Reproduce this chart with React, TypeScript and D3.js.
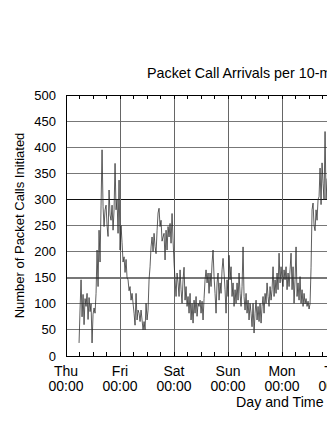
import { useEffect, useRef } from 'react';
import * as d3 from 'd3';

// series starts Thu ~05:48, one sample every 80/3 minutes
const START_HOUR = 5.8;
const STEP_HOURS = 4 / 9;
const packetCalls = [
  25, 90, 146, 75, 118, 60, 110, 95, 120, 70, 112, 85, 100, 25, 80, 92, 82, 120, 203, 133,
  241, 180, 289, 395, 286, 248, 280, 289, 250, 229, 318, 270, 260, 289, 241, 280, 369, 280, 300, 235,
  337, 203, 250, 217, 180, 190, 160, 185, 150, 146, 125, 133, 107, 120, 101, 82, 59, 120, 69, 88,
  82, 66, 88, 69, 50, 66, 50, 101, 69, 88, 146, 171, 209, 228, 200, 235, 210, 196, 240, 274,
  283, 248, 260, 220, 228, 235, 184, 241, 203, 248, 228, 254, 216, 273, 222, 178, 146, 114, 159, 140,
  114, 165, 127, 101, 146, 170, 107, 133, 95, 114, 82, 120, 69, 101, 63, 107, 82, 114, 76, 101,
  95, 107, 82, 105, 69, 110, 146, 165, 140, 159, 120, 159, 133, 178, 203, 152, 120, 82, 140, 159,
  107, 140, 120, 165, 187, 159, 127, 82, 146, 114, 193, 146, 171, 114, 140, 95, 127, 101, 140, 107,
  159, 120, 95, 133, 209, 114, 88, 120, 82, 107, 69, 101, 82, 56, 101, 44, 82, 107, 69, 95,
  66, 101, 63, 95, 114, 82, 120, 101, 140, 114, 95, 133, 107, 127, 171, 114, 146, 120, 159, 127,
  197, 140, 171, 146, 133, 165, 146, 171, 127, 159, 133, 165, 197, 127, 171, 101, 146, 209, 114, 140,
  107, 152, 101, 127, 95, 120, 100, 110, 95, 105, 90, 100, 170, 280, 293, 250, 240, 280, 260, 300,
  305, 360, 290, 370, 331, 299, 430, 300, 340,
];

const dayLabels = ['Thu', 'Fri', 'Sat', 'Sun', 'Mon', 'Tue', 'Wed'];
const yTicks = [0, 50, 100, 150, 200, 250, 300, 350, 400, 450, 500];

const W = 327;
const H = 423;
const FONT = '"Liberation Sans", Arial, Helvetica, sans-serif';

export default function App() {
  const ref = useRef<SVGSVGElement>(null);

  useEffect(() => {
    const svg = d3.select(ref.current);
    svg.selectAll('*').remove();

    const left = 66, top = 95, bottom = 356;
    const x = d3.scaleLinear().domain([0, 144]).range([left, left + 6 * 54]);
    const y = d3.scaleLinear().domain([0, 500]).range([bottom, top]);
    const right = x(144);

    const g = svg.append('g');

    // horizontal grid
    g.selectAll('.hgrid')
      .data(yTicks.filter((v) => v > 0 && v < 500))
      .join('line')
      .attr('x1', left).attr('x2', right)
      .attr('y1', (d) => y(d)).attr('y2', (d) => y(d))
      .attr('stroke', (d) => (d === 300 ? '#111' : '#777'))
      .attr('stroke-width', (d) => (d === 150 ? 1.6 : 1))
      .attr('shape-rendering', 'crispEdges');

    // vertical grid at each midnight
    const days = d3.range(1, 6).map((d) => d * 24);
    g.selectAll('.vgrid')
      .data(days)
      .join('line')
      .attr('x1', (d) => x(d)).attr('x2', (d) => x(d))
      .attr('y1', top).attr('y2', bottom)
      .attr('stroke', '#666')
      .attr('shape-rendering', 'crispEdges');

    // 6-hour ticks, top and bottom, pointing in
    const ticks = d3.range(0, 145, 6);
    g.selectAll('.tb')
      .data(ticks)
      .join('line')
      .attr('x1', (d) => x(d)).attr('x2', (d) => x(d))
      .attr('y1', bottom).attr('y2', bottom - 4)
      .attr('stroke', '#000')
      .attr('shape-rendering', 'crispEdges');
    g.selectAll('.tt')
      .data(ticks)
      .join('line')
      .attr('x1', (d) => x(d)).attr('x2', (d) => x(d))
      .attr('y1', top).attr('y2', top + 4)
      .attr('stroke', '#000')
      .attr('shape-rendering', 'crispEdges');

    // data line
    const line = d3.line<number>()
      .x((_, i) => x(START_HOUR + i * STEP_HOURS))
      .y((d) => y(d));
    g.append('path')
      .datum(packetCalls)
      .attr('d', line)
      .attr('fill', 'none')
      .attr('stroke', '#2a2a2a')
      .attr('stroke-width', 0.75);

    // frame
    g.append('rect')
      .attr('x', left).attr('y', top)
      .attr('width', right - left).attr('height', bottom - top)
      .attr('fill', 'none')
      .attr('stroke', '#000')
      .attr('shape-rendering', 'crispEdges');

    // y tick labels
    g.selectAll('.ylab')
      .data(yTicks)
      .join('text')
      .attr('x', 56)
      .attr('y', (d) => y(d) + 4.5)
      .attr('text-anchor', 'end')
      .attr('font-family', FONT)
      .attr('font-size', 13)
      .attr('fill', '#000')
      .text((d) => d);

    // x tick labels
    const xl = g.selectAll('.xlab')
      .data(d3.range(0, 6))
      .join('g')
      .attr('transform', (d) => `translate(${x(d * 24)},0)`)
      .attr('font-family', FONT)
      .attr('font-size', 14)
      .attr('text-anchor', 'middle');
    xl.append('text').attr('y', 376).text((d) => dayLabels[d]);
    xl.append('text').attr('y', 390.5).text('00:00');

    // axis titles
    g.append('text')
      .attr('x', 236).attr('y', 407)
      .attr('font-family', FONT).attr('font-size', 14.2)
      .text('Day and Time');

    g.append('text')
      .attr('transform', `translate(24,${(top + bottom) / 2}) rotate(-90)`)
      .attr('text-anchor', 'middle')
      .attr('font-family', FONT).attr('font-size', 13)
      .text('Number of Packet Calls Initiated');

    g.append('text')
      .attr('x', 147).attr('y', 78)
      .attr('font-family', FONT).attr('font-size', 14.3)
      .text('Packet Call Arrivals per 10-minute Interval');
  }, []);

  return (
    <div style={{ position: 'absolute', left: 0, top: 0, width: W, height: H, overflow: 'hidden', background: '#fff' }}>
      <svg ref={ref} width={W} height={H} style={{ display: 'block' }} />
    </div>
  );
}
